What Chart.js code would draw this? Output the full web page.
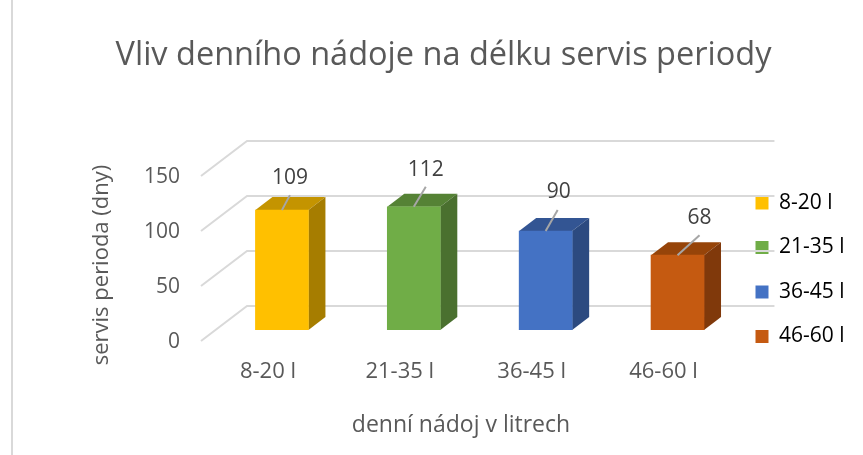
<!DOCTYPE html>
<html lang="cs">
<head>
  <meta charset="UTF-8">
  <title>Vliv denního nádoje na délku servis periody</title>
  <style>
    html, body { margin: 0; padding: 0; background: #fff; overflow: hidden; }
    #wrap { position: relative; width: 863px; height: 455px; }
    #edge { position: absolute; left: 11px; top: 0; width: 2px; height: 455px; background: #d9d9d9; }
  </style>
</head>
<body>
  <div id="wrap">
    <canvas id="chart" width="863" height="455"></canvas>
    <div id="edge"></div>
  </div>

  <script src="https://cdn.jsdelivr.net/npm/chart.js"></script>
  <script>
    const categories = ['8-20 l', '21-35 l', '36-45 l', '46-60 l'];
    const values = [109, 112, 90, 68];
    const yTicks = [0, 50, 100, 150];

    const titleText = 'Vliv denního nádoje na délku servis periody';
    const yTitle = 'servis perioda (dny)';
    const xTitle = 'denní nádoj v litrech';

    const frontColors = ['#ffc000', '#70ad47', '#4472c4', '#c55a11'];
    const topColors = ['#c49400', '#558235', '#335593', '#964409'];
    const sideColors = ['#a67d00', '#4a702f', '#2c4a80', '#80390b'];

    const textColor = '#595959';
    const fontFamily = '"Open Sans", sans-serif';

    // fake 3D: how far the floor runs in front of and behind the bars
    const depth = { front: [-15, 11], back: [31, -24], bar: [17, -13] };
    // where each data label sits relative to the top of its bar
    const labelShift = [[8, -32], [12, -37], [13, -39], [22, -37]];
    const leaderEnd = [[8, -15], [12, -20], [12, -21], [22, -20]];

    const threeD = {
      id: 'threeD',
      // legend overlaps the back wall in the original, layout alone won't do that
      afterLayout(chart) {
        chart.legend.left = 732;
        chart.legend.top = 169;
      },
      beforeDatasetsDraw(chart) {
        const { ctx, scales: { x, y } } = chart;
        const left = x.left, right = x.right;

        // gridlines: back wall and the oblique floor run
        ctx.save();
        ctx.strokeStyle = '#d9d9d9';
        ctx.lineWidth = 2;
        yTicks.forEach(t => {
          const py = y.getPixelForValue(t);
          ctx.beginPath();
          ctx.moveTo(left + depth.front[0], py + depth.front[1]);
          ctx.lineTo(left + depth.back[0], py + depth.back[1]);
          ctx.lineTo(right + depth.back[0], py + depth.back[1]);
          ctx.stroke();
        });

        // top and side faces of the bars
        const [dx, dy] = depth.bar;
        chart.getDatasetMeta(0).data.forEach((bar, i) => {
          const l = bar.x - bar.width / 2, r = bar.x + bar.width / 2;
          ctx.fillStyle = topColors[i];
          ctx.beginPath();
          ctx.moveTo(l, bar.y);
          ctx.lineTo(l + dx, bar.y + dy);
          ctx.lineTo(r + dx, bar.y + dy);
          ctx.lineTo(r, bar.y);
          ctx.closePath();
          ctx.fill();
          ctx.fillStyle = sideColors[i];
          ctx.beginPath();
          ctx.moveTo(r, bar.y);
          ctx.lineTo(r + dx, bar.y + dy);
          ctx.lineTo(r + dx, bar.base + dy);
          ctx.lineTo(r, bar.base);
          ctx.closePath();
          ctx.fill();
        });
        ctx.restore();
      },
      afterDatasetsDraw(chart) {
        const { ctx } = chart;
        ctx.save();
        ctx.textAlign = 'center';
        ctx.textBaseline = 'middle';

        // data labels with leader lines
        chart.getDatasetMeta(0).data.forEach((bar, i) => {
          ctx.strokeStyle = '#a6a6a6';
          ctx.lineWidth = 2;
          ctx.beginPath();
          ctx.moveTo(bar.x, bar.y);
          ctx.lineTo(bar.x + leaderEnd[i][0], bar.y + leaderEnd[i][1]);
          ctx.stroke();
          ctx.fillStyle = '#404040';
          ctx.font = '21px ' + fontFamily;
          ctx.fillText(String(values[i]), bar.x + labelShift[i][0], bar.y + labelShift[i][1]);
        });

        // axis titles are off-centre in the original, so placed by hand
        ctx.fillStyle = textColor;
        ctx.font = '23px ' + fontFamily;
        ctx.fillText(xTitle, 461, 425);
        ctx.font = '22px ' + fontFamily;
        ctx.translate(102, 265);
        ctx.rotate(-Math.PI / 2);
        ctx.fillText(yTitle, 0, 0);
        ctx.restore();
      }
    };

    new Chart(document.getElementById('chart'), {
      type: 'bar',
      data: {
        labels: categories,
        datasets: [{
          data: values,
          backgroundColor: frontColors,
          borderWidth: 0,
          barThickness: 53
        }]
      },
      options: {
        responsive: false,
        animation: false,
        layout: { padding: { left: 21, right: -3, top: 0, bottom: 0 } },
        plugins: {
          tooltip: { enabled: false },
          title: {
            display: true,
            text: titleText,
            color: textColor,
            font: { family: fontFamily, size: 32.5, weight: 'normal' },
            padding: { top: 36, bottom: 90 }
          },
          legend: {
            position: 'right',
            align: 'start',
            labels: {
              boxWidth: 13,
              boxHeight: 13,
              padding: 23.5,
              color: textColor,
              font: { family: fontFamily, size: 21 },
              generateLabels: () => categories.map((c, i) => ({
                text: c,
                fillStyle: frontColors[i],
                strokeStyle: frontColors[i],
                lineWidth: 0,
                index: i
              }))
            }
          }
        },
        scales: {
          x: {
            grid: { display: false, drawTicks: false },
            border: { display: false },
            ticks: {
              color: textColor,
              labelOffset: -14,
              padding: 29,
              maxRotation: 0,
              font: { family: fontFamily, size: 22 }
            },
            afterFit(s) { s.height = 125; }
          },
          y: {
            min: 0,
            max: 150,
            grid: { display: false, drawTicks: false },
            border: { display: false },
            afterBuildTicks(s) { s.ticks = yTicks.map(v => ({ value: v })); },
            ticks: {
              color: textColor,
              labelOffset: 12,
              padding: 36,
              font: { family: fontFamily, size: 21 }
            },
            afterFit(s) { s.width = 195; }
          }
        }
      },
      plugins: [threeD]
    });
  </script>
</body>
</html>
